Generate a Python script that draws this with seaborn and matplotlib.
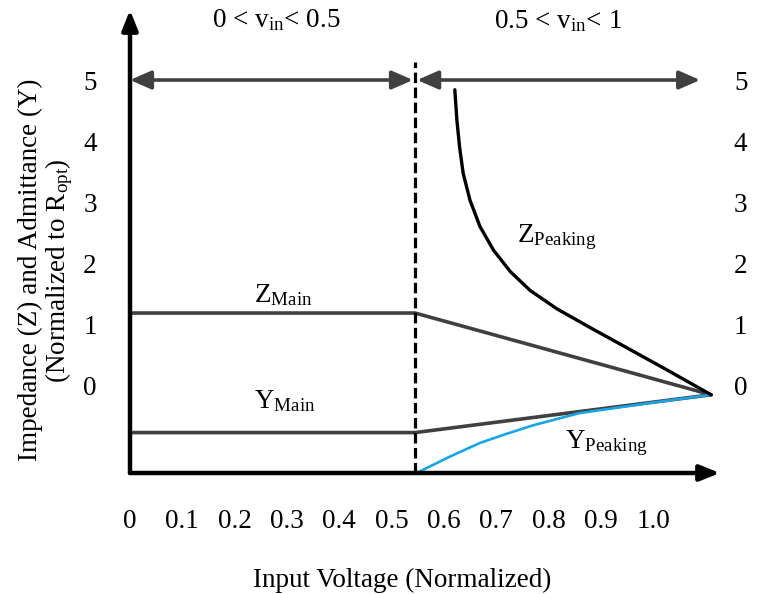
import matplotlib
matplotlib.use("Agg")
import matplotlib.pyplot as plt
import pandas as pd
import seaborn as sns

# Input voltage (normalized) where the main amplifier saturates, and end of sweep
v_break = 0.545
v_end = 1.111

# Main amplifier impedance / admittance
z_main_v = [0.0, v_break, v_end]
z_main = [1.18, 1.18, -0.16]
y_main_v = [0.0, v_break, v_end]
y_main = [-0.78, -0.78, -0.16]

# Peaking amplifier impedance / admittance
z_peak_v = [0.621, 0.625, 0.630, 0.637, 0.650, 0.669, 0.695, 0.727, 0.765,
            0.816, 0.880, 0.950, 1.026, v_end]
z_peak = [4.84, 4.34, 3.91, 3.47, 3.03, 2.60, 2.21, 1.86, 1.55,
          1.25, 0.94, 0.61, 0.25, -0.16]
y_peak_v = [0.551, 0.610, 0.669, 0.720, 0.771, 0.815, 0.860, 0.925, 0.989, 1.050, v_end]
y_peak = [-1.43, -1.18, -0.95, -0.80, -0.66, -0.56, -0.46, -0.38, -0.30, -0.23, -0.16]

x_ticks = [0.0, 0.1, 0.2, 0.3, 0.4, 0.5, 0.6, 0.7, 0.8, 0.9, 1.0]
x_tick_labels = ["0", "0.1", "0.2", "0.3", "0.4", "0.5", "0.6", "0.7", "0.8", "0.9", "1.0"]
y_ticks = [0, 1, 2, 3, 4, 5]
y_tick_labels = ["0", "1", "2", "3", "4", "5"]
region_level = 5

sns.set_theme(style="white")
plt.rcParams["font.family"] = ["Liberation Serif", "DejaVu Serif"]
plt.rcParams["mathtext.fontset"] = "custom"
plt.rcParams["mathtext.rm"] = "Liberation Serif"
plt.rcParams["mathtext.it"] = "Liberation Serif:italic"
for key in ["text.color", "axes.labelcolor", "xtick.color", "ytick.color"]:
    plt.rcParams[key] = "black"

GRAY = "#404040"
BLUE = "#18a5e6"
FS = 19.5

fig = plt.figure(figsize=(7.63, 5.94), dpi=100)
ax = fig.add_axes([130 / 763, 121 / 594, 590 / 763, 463 / 594])
ax.set_xlim(0, 1.128)
ax.set_ylim(-1.4426, 6.148)
for s in ax.spines.values():
    s.set_visible(False)

def series(v, val):
    return pd.DataFrame({"v": v, "val": val})

sns.lineplot(data=series(z_main_v, z_main), x="v", y="val", sort=False,
             estimator=None, color=GRAY, lw=2.6, ax=ax)
sns.lineplot(data=series(y_main_v, y_main), x="v", y="val", sort=False,
             estimator=None, color=GRAY, lw=2.6, ax=ax)
sns.lineplot(data=series(y_peak_v, y_peak), x="v", y="val", sort=False,
             estimator=None, color=BLUE, lw=1.9, ax=ax)
sns.lineplot(data=series(z_peak_v, z_peak), x="v", y="val", sort=False,
             estimator=None, color="black", lw=2.4, ax=ax)

# Boundary between the two operating regions
ax.plot([v_break, v_break], [ax.get_ylim()[0], 5.3], color="black", lw=2.3,
        ls=(0, (3.3, 1.4)), clip_on=False)

# Axis arrows
arrow_kw = dict(arrowstyle="-|>,head_length=0.75,head_width=0.3", color="black",
                lw=3.2, mutation_scale=16, shrinkA=0, shrinkB=0)
ax.annotate("", xy=(0, 1), xytext=(0, 0), xycoords="axes fraction", arrowprops=arrow_kw)
ax.annotate("", xy=(1, 0), xytext=(0, 0), xycoords="axes fraction", arrowprops=arrow_kw)

# Region span arrows
span_kw = dict(arrowstyle="<|-|>,head_length=0.8,head_width=0.35", color=GRAY,
               lw=2.6, mutation_scale=16, shrinkA=0, shrinkB=0)
ax.annotate("", xy=(v_break - 0.004, region_level), xytext=(0.0, region_level),
            arrowprops=span_kw)
ax.annotate("", xy=(1.09, region_level), xytext=(v_break + 0.004, region_level),
            arrowprops=span_kw)

ax.text(0.279, 5.87, r"0 < v$_{\mathrm{in}}$< 0.5", ha="center", va="baseline",
        fontsize=FS)
ax.text(0.818, 5.85, r"0.5 < v$_{\mathrm{in}}$< 1", ha="center", va="baseline",
        fontsize=FS)

ax.text(0.293, 1.36, r"$\mathrm{Z_{Main}}$", ha="center", va="baseline", fontsize=FS)
ax.text(0.295, -0.377, r"$\mathrm{Y_{Main}}$", ha="center", va="baseline", fontsize=FS)
ax.text(0.817, 2.34, r"$\mathrm{Z_{Peaking}}$", ha="center", va="baseline", fontsize=FS)
ax.text(0.910, -1.03, r"$\mathrm{Y_{Peaking}}$", ha="center", va="baseline", fontsize=FS)

ax.set_xticks(x_ticks, x_tick_labels)
ax.set_yticks(y_ticks, y_tick_labels)
ax.tick_params(axis="x", length=0, pad=26, labelsize=FS)
ax.tick_params(axis="y", length=0, pad=24, labelsize=FS)

ax2 = ax.twinx()
ax2.set_ylim(ax.get_ylim())
ax2.set_yticks(y_ticks, y_tick_labels)
ax2.tick_params(axis="y", length=0, pad=10, labelsize=FS)
for s in ax2.spines.values():
    s.set_visible(False)

ax.set_xlabel("Input Voltage (Normalized)", fontsize=FS)
ax.xaxis.set_label_coords(0.461, -0.205)
ax.set_ylabel("Impedance (Z) and Admittance (Y)\n(Normalized to R$_{\\mathrm{opt}}$)",
              fontsize=FS, linespacing=1.0)
ax.yaxis.set_label_coords(-0.094, 0.438)

fig.savefig("out.png", dpi=100)
